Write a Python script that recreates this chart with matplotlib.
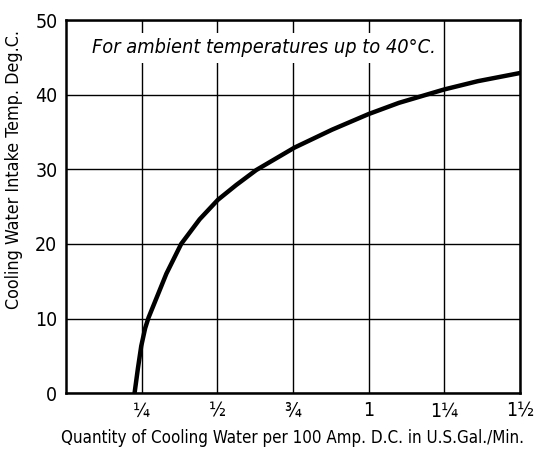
import matplotlib.pyplot as plt

# cooling water quantity (US gal/min per 100 A d.c.) vs. allowed intake temperature
flow = [0.227, 0.238, 0.249, 0.262, 0.273, 0.295, 0.332, 0.381, 0.442, 0.502,
        0.563, 0.629, 0.755, 0.879, 1.0, 1.1, 1.2, 1.25, 1.36, 1.5]
temp = [0, 3.3, 6.3, 8.7, 10.1, 12.3, 16.0, 20, 23.3, 25.9,
        27.9, 29.9, 32.9, 35.3, 37.4, 38.9, 40.1, 40.7, 41.8, 42.9]

x_ticks = [0.25, 0.5, 0.75, 1.0, 1.25, 1.5]
x_tick_labels = ["¼", "½", "¾", "1", "1¼", "1½"]
y_ticks = [0, 10, 20, 30, 40, 50]

plt.rcParams["font.family"] = ["DejaVu Sans"]
plt.rcParams["font.stretch"] = "condensed"

fig = plt.figure(figsize=(5.44, 4.55), dpi=100)
ax = fig.add_axes([0.121, 0.136, 0.835, 0.820])

ax.plot(flow, temp, color="black", linewidth=3.2, solid_capstyle="round",
        solid_joinstyle="round", zorder=4)

ax.set_xlim(0, 1.5)
ax.set_ylim(0, 50)
ax.set_xticks(x_ticks)
ax.set_xticklabels(x_tick_labels, fontsize=14)
ax.set_yticks(y_ticks)
ax.set_yticklabels([str(v) for v in y_ticks], fontsize=14)
ax.tick_params(length=0, pad=6)
ax.grid(True, color="black", linewidth=1.0)
ax.set_axisbelow(True)
for s in ax.spines.values():
    s.set_linewidth(1.8)

xlab = ax.set_xlabel("Quantity of Cooling Water per 100 Amp. D.C. in U.S.Gal./Min.",
                     fontsize=12.2, labelpad=6)
ylab = ax.set_ylabel("Cooling Water Intake Temp. Deg.C.", fontsize=12.8)
ax.yaxis.set_label_coords(-0.095, 0.6)

# shrink the axis label until it fits under the axes
fig.canvas.draw()
r = fig.canvas.get_renderer()
w = xlab.get_window_extent(r).width
if w > 475:
    xlab.set_fontsize(12.2 * 475 / w)

ax.text(0.085, 46.3, "For ambient temperatures up to 40°C.", fontsize=14.3, style="italic",
        va="center", ha="left", zorder=3,
        bbox=dict(facecolor="white", edgecolor="none", pad=4))

fig.savefig("out.png", dpi=100)
